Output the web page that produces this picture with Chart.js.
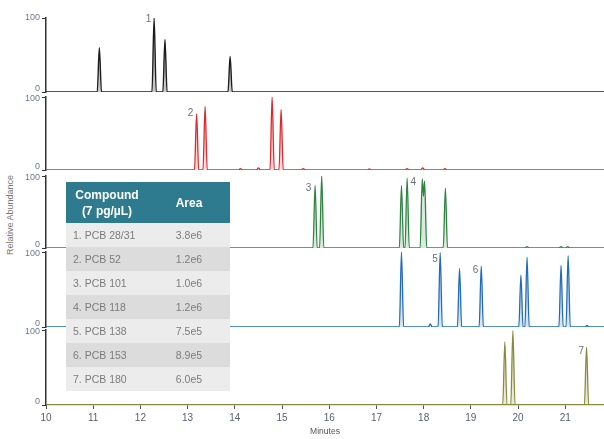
<!DOCTYPE html>
<html>
<head>
<meta charset="utf-8">
<script src="https://cdn.jsdelivr.net/npm/chart.js@4.4.1/dist/chart.umd.min.js"></script>
<style>
  body { margin: 0; width: 604px; height: 439px; background: #fff; position: relative; overflow: hidden;
         font-family: "Liberation Sans", Arial, sans-serif; }
  .panel { position: absolute; left: 0; }
  #yTitle { position: absolute; left: 10px; top: 215px; transform: translate(-50%, -50%) rotate(-90deg);
            font-size: 9px; color: #777; white-space: nowrap; }
  #areaTable { position: absolute; left: 66px; top: 182px; width: 164px; border-collapse: collapse; z-index: 9;
               table-layout: fixed; }
  #areaTable th { background: #2e7b8f; color: #fff; font-weight: bold; font-size: 12px; line-height: 16px;
                  height: 41px; padding: 0; text-align: center; }
  #areaTable td { height: 24px; padding: 0; font-size: 10.5px; color: #7c7c7c; }
  #areaTable td.name { padding-left: 7px; }
  #areaTable td.area { text-align: center; }
  #areaTable tr:nth-child(odd) td { background: #ececec; }
  #areaTable tr:nth-child(even) td { background: #dcdcdc; }
</style>
</head>
<body>
<div id="yTitle">Relative Abundance</div>
<table id="areaTable">
  <colgroup><col style="width:82px"><col style="width:82px"></colgroup>
  <thead><tr><th>Compound<br>(7 pg/µL)</th><th>Area</th></tr></thead>
  <tbody id="tableBody"></tbody>
</table>
<script>
// table contents
const compounds = ['1. PCB 28/31', '2. PCB 52', '3. PCB 101', '4. PCB 118', '5. PCB 138', '6. PCB 153', '7. PCB 180'];
const areas = ['3.8e6', '1.2e6', '1.0e6', '1.2e6', '7.5e5', '8.9e5', '6.0e5'];

// x axis (minutes)
const xMin = 10;
const xMax = 21.82;
const xTickLabels = [10, 11, 12, 13, 14, 15, 16, 17, 18, 19, 20, 21];
const yTickLabels = [0, 100];

// traces: [minutes, relative abundance]
const traceBlack = [[10, 0], [11.085, 0], [11.13, 60], [11.175, 0], [12.245, 0], [12.29, 100], [12.335, 0],
  [12.475, 0], [12.52, 71], [12.565, 0], [13.855, 0], [13.90, 48], [13.945, 0], [21.82, 0]];

const traceRed = [[10, 0], [13.145, 0], [13.19, 77], [13.235, 0], [13.325, 0], [13.37, 87], [13.415, 0],
  [14.08, 0], [14.12, 2], [14.16, 0], [14.46, 0], [14.5, 3], [14.54, 0], [14.745, 0], [14.79, 100], [14.835, 0],
  [14.935, 0], [14.98, 83], [15.025, 0], [15.41, 0], [15.45, 2], [15.49, 0], [16.81, 0], [16.85, 1.5], [16.89, 0],
  [17.61, 0], [17.65, 2], [17.69, 0], [17.94, 0], [17.98, 3], [18.02, 0], [18.41, 0], [18.45, 2], [18.49, 0], [21.82, 0]];

const traceGreen = [[10, 0], [15.655, 0], [15.70, 87], [15.745, 0], [15.795, 0], [15.84, 100], [15.885, 0],
  [17.485, 0], [17.53, 87], [17.575, 0], [17.605, 0], [17.65, 97], [17.695, 0], [17.925, 0], [17.97, 96],
  [17.995, 72], [18.02, 93], [18.065, 0], [18.415, 0], [18.46, 83], [18.505, 0], [20.15, 0], [20.19, 2], [20.23, 0],
  [20.87, 0], [20.91, 2], [20.95, 0], [21.01, 0], [21.05, 2], [21.09, 0], [21.82, 0]];

const traceBlue = [[10, 0], [17.485, 0], [17.53, 100], [17.575, 0], [18.10, 0], [18.14, 4], [18.18, 0],
  [18.305, 0], [18.35, 99], [18.395, 0], [18.715, 0], [18.76, 78], [18.805, 0], [19.175, 0], [19.22, 81], [19.265, 0],
  [20.015, 0], [20.06, 69], [20.105, 0], [20.145, 0], [20.19, 93], [20.235, 0], [20.865, 0], [20.91, 82], [20.955, 0],
  [21.015, 0], [21.06, 95], [21.105, 0], [21.42, 0], [21.46, 2], [21.5, 0], [21.82, 0]];

const traceOlive = [[10, 0], [19.675, 0], [19.72, 84], [19.765, 0], [19.845, 0], [19.89, 99], [19.935, 0],
  [21.405, 0], [21.45, 77], [21.495, 0], [21.82, 0]];

// peak numbers: [panel, text, minutes, relative abundance]
const peakLabels = [[0, '1', 12.17, 98], [1, '2', 13.06, 78], [2, '3', 15.56, 83], [2, '4', 17.78, 91],
  [3, '5', 18.24, 90], [3, '6', 19.10, 76], [4, '7', 21.34, 72]];

const traces = [traceBlack, traceRed, traceGreen, traceBlue, traceOlive];
const colors = ['#1c1c1c', '#e2262e', '#2e8540', '#1f6bbf', '#8b893d'];
const fills = ['rgba(0,0,0,0.22)', 'rgba(226,38,46,0.18)', 'rgba(46,133,64,0.18)', 'rgba(31,107,191,0.18)', 'rgba(139,137,61,0.18)'];
// pixel rows of the 100 and 0 ticks for each panel
const panelTops = [18, 97, 176, 252, 330];
const panelBottoms = [92, 170, 248, 327, 405];

const tbody = document.getElementById('tableBody');
compounds.forEach((c, i) => {
  const tr = document.createElement('tr');
  tr.innerHTML = `<td class="name">${c}</td><td class="area">${areas[i]}</td>`;
  tbody.appendChild(tr);
});

const PAD = 8;
const X_AXIS_H = 34;
const FONT = '"Liberation Sans", Arial, sans-serif';

traces.forEach((trace, i) => {
  const isLast = i === traces.length - 1;
  const top = panelTops[i] - PAD;
  const height = (panelBottoms[i] - panelTops[i]) + PAD + (isLast ? X_AXIS_H : PAD);

  const canvas = document.createElement('canvas');
  canvas.className = 'panel';
  canvas.width = 604;
  canvas.height = height;
  canvas.style.top = top + 'px';
  canvas.style.zIndex = i + 1;
  document.body.appendChild(canvas);

  // peak numbers plus the 0 / 100 labels, nudged apart where panels meet
  const labelPlugin = {
    id: 'panelLabels' + i,
    afterDraw(chart) {
      const ctx = chart.ctx;
      const { x, y } = chart.scales;
      ctx.save();
      ctx.font = '10px ' + FONT;
      ctx.fillStyle = '#687080';
      ctx.textAlign = 'center';
      ctx.textBaseline = 'middle';
      peakLabels.filter(p => p[0] === i).forEach(p => {
        ctx.fillText(p[1], x.getPixelForValue(p[2]), y.getPixelForValue(p[3]));
      });
      ctx.font = '9px ' + FONT;
      ctx.fillStyle = '#6b7a90';
      ctx.textAlign = 'right';
      yTickLabels.forEach(v => {
        const shift = v === 0 ? -3 : (i === 0 ? 0 : 2);
        ctx.fillText(String(v), chart.chartArea.left - 6, y.getPixelForValue(v) + shift);
      });
      ctx.restore();
    }
  };

  new Chart(canvas, {
    type: 'line',
    data: {
      datasets: [{
        data: trace.map(p => ({ x: p[0], y: p[1] })),
        borderColor: colors[i],
        backgroundColor: fills[i],
        borderWidth: i === 0 ? 1.4 : 1.3,
        pointRadius: 0,
        fill: 'origin',
        cubicInterpolationMode: 'monotone'
      }]
    },
    options: {
      responsive: false,
      animation: false,
      devicePixelRatio: 1,
      layout: { padding: { top: PAD, bottom: isLast ? 0 : PAD, left: 0, right: 0 } },
      plugins: { legend: { display: false }, tooltip: { enabled: false } },
      scales: {
        x: {
          type: 'linear',
          display: isLast,
          min: xMin,
          max: xMax,
          afterBuildTicks: s => { s.ticks = xTickLabels.map(v => ({ value: v })); },
          afterFit: s => { if (isLast) s.height = X_AXIS_H; },
          ticks: { includeBounds: false, color: '#5a6270', font: { size: 10, family: FONT },
                   padding: 3, maxRotation: 0, autoSkip: false },
          grid: { drawOnChartArea: false, drawTicks: true, tickLength: 4, color: '#555' },
          border: { display: true, color: '#8b893d', width: 1.3 },
          title: { display: true, text: 'Minutes', color: '#555', padding: { top: 0, bottom: 2 },
                   font: { size: 8.5, family: FONT } }
        },
        y: {
          min: 0,
          max: 100,
          afterBuildTicks: s => { s.ticks = yTickLabels.map(v => ({ value: v })); },
          afterFit: s => { s.width = 46; },
          ticks: { display: false },
          grid: { drawOnChartArea: false, drawTicks: true, tickLength: 4, color: '#333' },
          border: { display: true, color: '#333', width: 1.5 }
        }
      }
    },
    plugins: [labelPlugin]
  });
});
</script>
</body>
</html>
